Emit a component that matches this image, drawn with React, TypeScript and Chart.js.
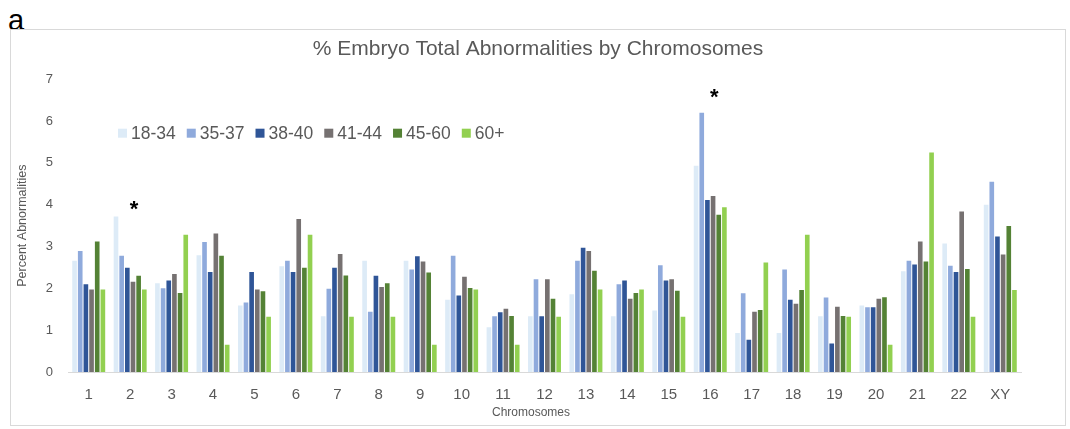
import React, { useEffect, useRef } from 'react';
import { Chart, registerables } from 'chart.js';

Chart.register(...registerables);

const categories = ['1', '2', '3', '4', '5', '6', '7', '8', '9', '10', '11', '12', '13', '14', '15', '16', '17', '18', '19', '20', '21', '22', 'XY'];
const seriesLabels = ['18-34', '35-37', '38-40', '41-44', '45-60', '60+'];
const s18_34 = [2.66, 3.72, 2.12, 2.79, 1.59, 2.53, 1.33, 2.66, 2.66, 1.73, 1.07, 1.33, 1.86, 1.33, 1.47, 4.93, 0.93, 0.93, 1.33, 1.59, 2.41, 3.07, 4.0];
const s35_37 = [2.89, 2.78, 2.0, 3.11, 1.66, 2.66, 1.99, 1.44, 2.45, 2.78, 1.33, 2.22, 2.66, 2.1, 2.55, 6.2, 1.88, 2.45, 1.78, 1.55, 2.66, 2.54, 4.55];
const s38_40 = [2.1, 2.49, 2.19, 2.39, 2.39, 2.39, 2.49, 2.3, 2.77, 1.83, 1.43, 1.33, 2.97, 2.19, 2.19, 4.11, 0.77, 1.73, 0.68, 1.55, 2.57, 2.39, 3.24];
const s41_44 = [1.97, 2.16, 2.34, 3.31, 1.97, 3.66, 2.82, 2.03, 2.64, 2.28, 1.51, 2.22, 2.89, 1.75, 2.22, 4.21, 1.44, 1.63, 1.56, 1.75, 3.12, 3.84, 2.81];
const s45_60 = [3.12, 2.3, 1.89, 2.78, 1.93, 2.49, 2.31, 2.12, 2.38, 2.01, 1.34, 1.75, 2.42, 1.89, 1.94, 3.76, 1.48, 1.96, 1.34, 1.79, 2.64, 2.46, 3.49];
const s60plus = [1.97, 1.97, 3.28, 0.65, 1.32, 3.28, 1.32, 1.32, 0.65, 1.97, 0.65, 1.32, 1.97, 1.97, 1.32, 3.94, 2.62, 3.28, 1.32, 0.65, 5.25, 1.32, 1.96];
const seriesColors = ['#DDEBF7', '#8FAADC', '#2F5597', '#767171', '#548235', '#92D050'];

// significance markers
const starCategories = ['2', '16'];
const starValues = [3.95, 6.63];

const FONT = "'Liberation Sans', Arial, sans-serif";
const GREY = '#595959';
const X_TITLE = 'Chromosomes';

const legendPlugin = {
  id: 'insideLegend',
  afterDraw(chart: any) {
    const { ctx, chartArea } = chart;
    ctx.save();
    ctx.font = `17.5px ${FONT}`;
    ctx.textBaseline = 'middle';
    ctx.textAlign = 'left';
    let x = chartArea.left + 50;
    const y = chartArea.top + 54;
    chart.data.datasets.forEach((ds: any) => {
      ctx.fillStyle = ds.backgroundColor;
      ctx.fillRect(x, y - 4.5, 9, 9);
      ctx.fillStyle = GREY;
      ctx.fillText(ds.label, x + 13, y + 1);
      x += 13 + ctx.measureText(ds.label).width + 11;
    });
    // x-axis title, centred on the whole chart box as in the original
    ctx.font = `12px ${FONT}`;
    ctx.textAlign = 'center';
    ctx.fillText(X_TITLE, chart.width / 2 - 7, chart.height - 12);
    ctx.restore();
  },
};

const starPlugin = {
  id: 'stars',
  afterDatasetsDraw(chart: any) {
    const { ctx } = chart;
    const xs = chart.scales.x;
    const ys = chart.scales.y;
    ctx.save();
    ctx.font = `bold 22px ${FONT}`;
    ctx.fillStyle = '#000000';
    ctx.textAlign = 'center';
    ctx.textBaseline = 'middle';
    starCategories.forEach((c, i) => {
      const px = xs.getPixelForValue(categories.indexOf(c)) + 4;
      const py = ys.getPixelForValue(starValues[i]);
      ctx.fillText('*', px, py + 3);
    });
    ctx.restore();
  },
};

export default function App() {
  const ref = useRef<HTMLCanvasElement>(null);
  useEffect(() => {
    document.body.style.margin = '0';
    const all = [s18_34, s35_37, s38_40, s41_44, s45_60, s60plus];
    const chart = new Chart(ref.current as HTMLCanvasElement, {
      type: 'bar',
      data: {
        labels: categories,
        datasets: all.map((d, i) => ({
          label: seriesLabels[i],
          data: d,
          backgroundColor: seriesColors[i],
          borderWidth: 0,
          barPercentage: 0.82,
          categoryPercentage: 0.82,
        })),
      },
      options: {
        animation: false,
        responsive: false,
        maintainAspectRatio: false,
        layout: { padding: 0 },
        plugins: {
          legend: { display: false },
          tooltip: { enabled: false },
          title: {
            display: true,
            text: '% Embryo Total Abnormalities by Chromosomes',
            color: GREY,
            font: { family: FONT, size: 21, weight: 'normal' },
            padding: { top: 7, bottom: 17 },
          },
        },
        scales: {
          x: {
            grid: { display: false, drawTicks: false },
            border: { display: true, color: '#D9D9D9', width: 1 },
            ticks: { color: GREY, font: { family: FONT, size: 15 }, padding: 14, maxRotation: 0, autoSkip: false },
            title: { display: false },
            afterFit: (s: any) => { s.height = 53; },
          },
          y: {
            min: 0,
            max: 7,
            grid: { display: false, drawTicks: false },
            border: { display: false },
            ticks: { stepSize: 1, color: GREY, font: { family: FONT, size: 13 }, padding: 15 },
            title: { display: true, text: 'Percent Abnormalities', color: GREY, font: { family: FONT, size: 12.5 }, padding: { top: 4, bottom: 0 } },
            afterFit: (s: any) => { s.width = 57; },
          },
          yRight: {
            position: 'right',
            min: 0,
            max: 7,
            grid: { display: false, drawTicks: false },
            border: { display: false },
            ticks: { display: false },
            afterFit: (s: any) => { s.width = 44; },
          },
        },
      },
      plugins: [legendPlugin, starPlugin],
    });
    return () => chart.destroy();
  }, []);

  return (
    <div style={{ position: 'relative', width: 1070, height: 429, background: '#fff', overflow: 'hidden' }}>
      <div style={{ position: 'absolute', left: 8, top: 2, fontFamily: FONT, fontSize: 29, color: '#000', lineHeight: '36px' }}>a</div>
      <div style={{ position: 'absolute', left: 10, top: 29, width: 1054, height: 395, border: '1px solid #D9D9D9' }}>
        <canvas ref={ref} width={1054} height={395} style={{ display: 'block', width: 1054, height: 395 }} />
      </div>
    </div>
  );
}
